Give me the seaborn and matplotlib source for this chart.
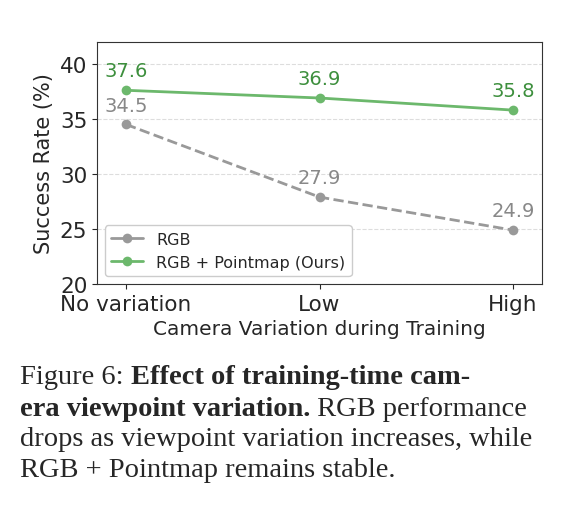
import matplotlib
matplotlib.use("Agg")
import matplotlib.pyplot as plt
import seaborn as sns
import pandas as pd

sns.set_style("ticks")
plt.rcParams['font.family'] = ['DejaVu Sans']

categories = ["No variation", "Low", "High"]
rgb = [34.5, 27.9, 24.9]
pointmap = [37.6, 36.9, 35.8]

df = pd.DataFrame({
    "x": categories * 2,
    "rate": rgb + pointmap,
    "method": ["RGB"] * 3 + ["RGB + Pointmap (Ours)"] * 3,
})

fig = plt.figure(figsize=(5.81, 5.10), dpi=100)
ax = fig.add_axes([0.167, 0.441, 0.766, 0.475])

palette = {"RGB": "#999999", "RGB + Pointmap (Ours)": "#6cb86c"}
sns.lineplot(data=df, x="x", y="rate", hue="method", palette=palette,
             marker="o", markersize=7, markeredgewidth=0, linewidth=2,
             sort=False, ax=ax)
ax.lines[0].set_linestyle("--")

for i, v in enumerate(rgb):
    ax.text(i, v + 0.9, f"{v}", ha="center", va="bottom", color="#888888", fontsize=14)
for i, v in enumerate(pointmap):
    ax.text(i, v + 0.9, f"{v}", ha="center", va="bottom", color="#3d8f3d", fontsize=14)

ax.set_ylim(20, 42)
ax.set_yticks([20, 25, 30, 35, 40])
ax.set_xlim(-0.15, 2.15)
ax.yaxis.grid(True, linestyle="--", color="#dddddd", linewidth=0.8)
ax.set_axisbelow(True)
ax.tick_params(labelsize=15.5)
ax.set_xlabel("Camera Variation during Training", fontsize=14.5)
ax.set_ylabel("Success Rate (%)", fontsize=15)
for s in ax.spines.values():
    s.set_color("#333333")
leg = ax.legend(loc="lower left", fontsize=11.5, framealpha=1, edgecolor="#cccccc")
leg.set_title(None)

# caption
lines = [
    [("Figure 6: ", "normal"), ("Effect of training-time cam-", "bold")],
    [("era viewpoint variation.", "bold"), (" RGB performance", "normal")],
    [("drops as viewpoint variation increases, while", "normal")],
    [("RGB + Pointmap remains stable.", "normal")],
]
fig.canvas.draw()
r = fig.canvas.get_renderer()
y0 = 1 - 378 / 510
for k, parts in enumerate(lines):
    x = 20 / 581
    y = y0 - k * 31 / 510
    for txt, w in parts:
        t = fig.text(x, y, txt, fontsize=20.5, fontweight=w,
                     family="Liberation Serif", va="center", ha="left")
        bb = t.get_window_extent(r)
        x += bb.width / fig.bbox.width

fig.savefig("out.png", dpi=100)
